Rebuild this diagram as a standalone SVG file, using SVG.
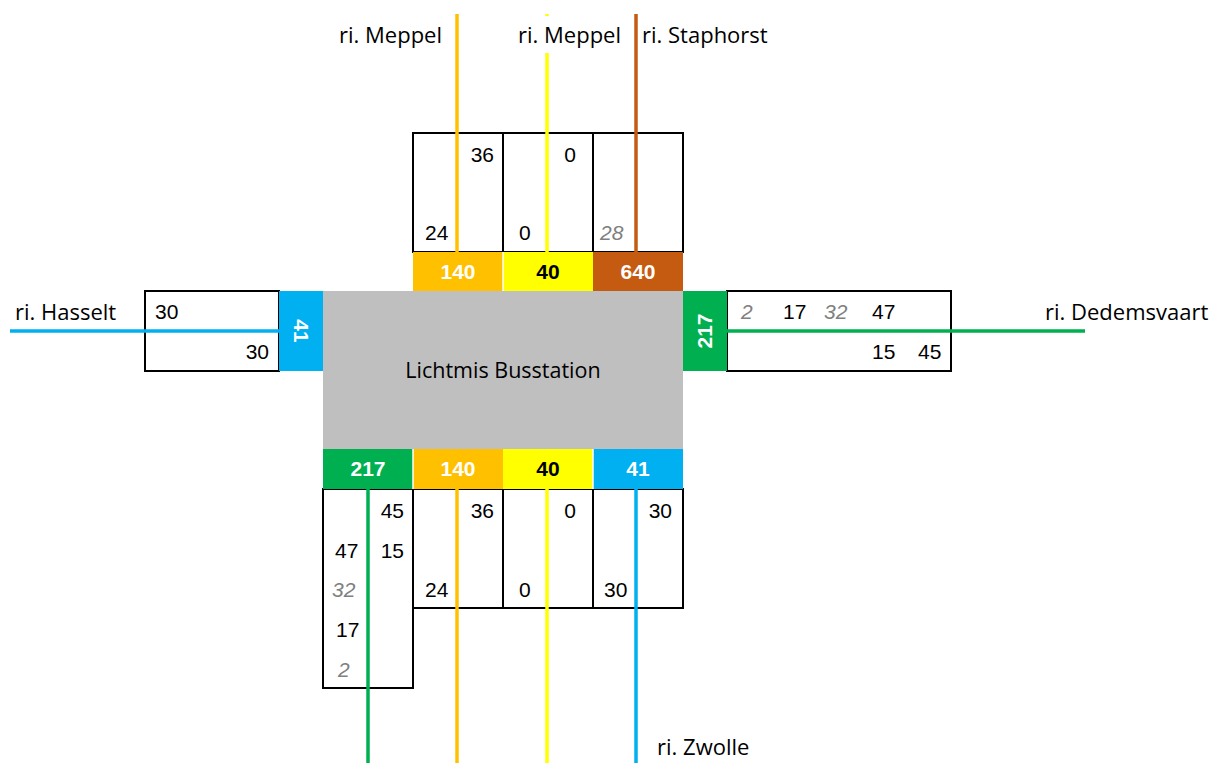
<svg xmlns="http://www.w3.org/2000/svg" width="1213" height="763" viewBox="0 0 1213 763">
<style>
.box{fill:#fff;stroke:#000;stroke-width:2}
.ln{fill:none;stroke-width:3.5}
.num{font-family:"Liberation Sans",Arial,sans-serif;font-size:21px;fill:#000}
.it{font-style:italic;fill:#808080}
.bar{font-family:"Liberation Sans",Arial,sans-serif;font-size:21px;font-weight:bold;fill:#fff;text-anchor:middle}
.lbl{font-family:"Open Sans","Noto Sans",sans-serif;font-size:22px;fill:#000}
.e{text-anchor:end}
.gap{stroke:#fff;stroke-width:1.5}
</style>
<rect width="1213" height="763" fill="#fff"/>

<g id="station">
<rect x="323" y="291" width="360" height="158" fill="#BFBFBF"/>
<text x="503" y="378" class="lbl" text-anchor="middle" font-size="21.5" style="font-size:21.5px">Lichtmis Busstation</text>
</g>

<g id="north">
<rect class="box" x="413" y="133" width="90" height="119"/>
<rect class="box" x="503" y="133" width="90" height="119"/>
<rect class="box" x="593" y="133" width="90" height="119"/>
<rect x="413" y="252" width="90" height="39" fill="#FFC000"/>
<rect x="503" y="252" width="90" height="39" fill="#FFFF00"/>
<rect x="593" y="252" width="90" height="39" fill="#C55A11"/>
<line class="gap" x1="503" y1="252" x2="503" y2="291"/>
<text class="bar" x="458" y="279">140</text>
<text class="bar" x="548" y="279" style="fill:#000">40</text>
<text class="bar" x="638" y="279">640</text>
<text class="num e" x="494" y="162">36</text>
<text class="num" x="425" y="240">24</text>
<text class="num e" x="576" y="162">0</text>
<text class="num" x="519" y="240">0</text>
<text class="num it" x="600" y="240">28</text>
</g>

<g id="west">
<rect class="box" x="145" y="291" width="134" height="80"/>
<rect x="279" y="291" width="44" height="80" fill="#00B0F0"/>
<text class="bar" transform="translate(301,331) rotate(90)" y="7">41</text>
<text class="num" x="155" y="319">30</text>
<text class="num e" x="269" y="359">30</text>
</g>

<g id="east">
<rect class="box" x="727" y="291" width="224" height="80"/>
<rect x="683" y="291" width="44" height="80" fill="#00B050"/>
<text class="bar" transform="translate(705,331) rotate(-90)" y="7">217</text>
<text class="num it" x="741" y="319">2</text>
<text class="num" x="783" y="319">17</text>
<text class="num it" x="824" y="319">32</text>
<text class="num" x="872" y="319">47</text>
<text class="num" x="872" y="359">15</text>
<text class="num" x="918" y="359">45</text>
</g>

<g id="south">
<rect class="box" x="323" y="489" width="90" height="199"/>
<rect class="box" x="413" y="489" width="90" height="119"/>
<rect class="box" x="503" y="489" width="90" height="119"/>
<rect class="box" x="593" y="489" width="90" height="119"/>
<rect x="323" y="449" width="90" height="40" fill="#00B050"/>
<rect x="413" y="449" width="90" height="40" fill="#FFC000"/>
<rect x="503" y="449" width="90" height="40" fill="#FFFF00"/>
<rect x="593" y="449" width="90" height="40" fill="#00B0F0"/>
<line class="gap" x1="413" y1="449" x2="413" y2="489"/>
<line class="gap" x1="593" y1="449" x2="593" y2="489"/>
<text class="bar" x="368" y="476">217</text>
<text class="bar" x="458" y="476">140</text>
<text class="bar" x="548" y="476" style="fill:#000">40</text>
<text class="bar" x="638" y="476">41</text>
<text class="num e" x="404" y="518">45</text>
<text class="num" x="335" y="558">47</text>
<text class="num e" x="404" y="558">15</text>
<text class="num it" x="332" y="597">32</text>
<text class="num" x="336" y="637">17</text>
<text class="num it" x="338" y="677">2</text>
<text class="num e" x="494" y="518">36</text>
<text class="num" x="425" y="597">24</text>
<text class="num e" x="576" y="518">0</text>
<text class="num" x="519" y="597">0</text>
<text class="num e" x="672" y="518">30</text>
<text class="num" x="604" y="597">30</text>
</g>

<g id="connectors">
<line class="ln" stroke="#FFC000" x1="457" y1="14" x2="457" y2="252"/>
<line class="ln" stroke="#FFFF00" x1="547" y1="14" x2="547" y2="252"/>
<line class="ln" stroke="#C55A11" x1="636" y1="14" x2="636" y2="252"/>
<line class="ln" stroke="#00B0F0" x1="10" y1="331" x2="279" y2="331"/>
<line class="ln" stroke="#00B050" x1="727" y1="331" x2="1085" y2="331"/>
<line class="ln" stroke="#00B050" x1="368" y1="489" x2="368" y2="763"/>
<line class="ln" stroke="#FFC000" x1="457" y1="489" x2="457" y2="763"/>
<line class="ln" stroke="#FFFF00" x1="547" y1="489" x2="547" y2="763"/>
<line class="ln" stroke="#00B0F0" x1="636" y1="489" x2="636" y2="763"/>
</g>

<g id="labels">
<text class="lbl" x="339" y="43">ri. Meppel</text>
<rect x="514" y="16" width="112" height="37" fill="#fff"/>
<text class="lbl" x="518" y="43">ri. Meppel</text>
<text class="lbl" x="642" y="43">ri. Staphorst</text>
<text class="lbl" x="15" y="320">ri. Hasselt</text>
<text class="lbl" x="1045" y="320">ri. Dedemsvaart</text>
<text class="lbl" x="657" y="755">ri. Zwolle</text>
</g>
</svg>
